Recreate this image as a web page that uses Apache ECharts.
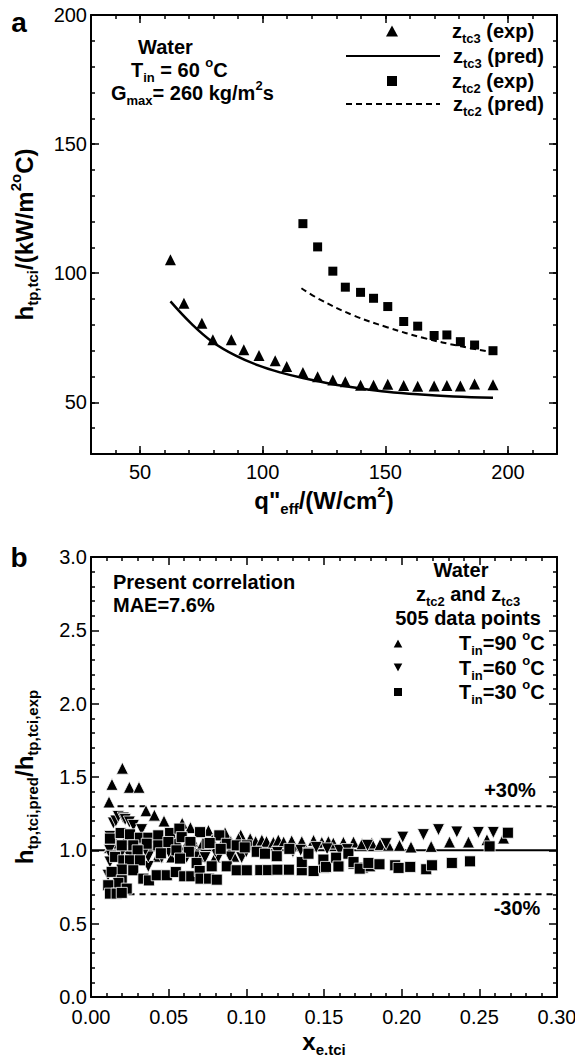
<!DOCTYPE html>
<html><head><meta charset="utf-8">
<script src="https://cdn.jsdelivr.net/npm/echarts@6/dist/echarts.min.js"></script>
<style>html,body{margin:0;padding:0;background:#fff}#c{width:575px;height:1061px}</style>
</head><body><div id="c"></div>
<script>
// ---------- Panel a data: h_tp,tci vs q"eff ----------
const z3Exp = [[62.4,105.2],[67.9,88.4],[75.2,80.6],[79.7,74.2],[87.2,74.2],[92.3,70.4],[98.5,68.1],[105.1,66.1],[109.8,63.9],[116.4,61.6],[122.4,59.9],[128.6,58.7],[133.7,58.0],[139.9,56.6],[145.2,56.6],[151.0,57.0],[157.5,56.5],[163.2,56.2],[169.9,56.3],[175.1,56.5],[180.6,56.3],[186.4,57.1],[193.9,56.8]];
const z3Pred = [[62.4,89.1],[71.0,80.4],[79.7,73.3],[89.0,68.1],[98.5,64.2],[107.1,61.6],[116.4,59.4],[128.2,57.1],[139.9,55.4],[150.7,54.1],[163.2,53.1],[177.8,52.3],[193.9,51.8]];
const z2Exp = [[116.4,119.2],[122.4,110.2],[128.6,100.8],[133.7,94.6],[139.9,92.6],[145.2,90.3],[151.0,87.1],[157.5,81.3],[163.2,79.5],[169.9,75.9],[175.1,76.1],[180.6,73.5],[186.4,72.2],[193.9,70.0]];
const z2Pred = [[115.8,94.2],[123.6,89.7],[137.2,83.6],[150.7,79.1],[165.8,74.9],[180.8,71.7],[193.9,69.4]];
const aXTicks = [50,100,150,200];
const aYTicks = [50,100,150,200];

// ---------- Panel b data: h_pred/h_exp vs x_e,tci ----------
const tin90 = [[0.0116,1.33],[0.0135,1.45],[0.0202,1.56],[0.0247,1.43],[0.0309,1.43],[0.0354,1.27],[0.0408,1.24],[0.047,1.20],[0.0587,1.185],[0.064,1.155],[0.0756,1.136],[0.0863,1.12],[0.0964,1.105],
 [0.012,1.02],[0.016,1.05],[0.022,1.07],[0.028,1.04],[0.033,1.06],[0.038,1.03],[0.044,1.05],[0.05,1.04],[0.055,1.07],[0.061,1.03],[0.066,1.06],[0.072,1.05],[0.078,1.07],[0.084,1.04],[0.09,1.06],[0.095,1.08],
 [0.03,0.965],[0.043,0.96],[0.052,0.955],[0.058,0.965],[0.07,0.96],[0.08,0.955],[0.092,0.96],
 [0.1025,1.08],[0.106,1.06],[0.110,1.07],[0.113,1.06],[0.1174,1.055],[0.1206,1.07],[0.124,1.057],[0.1292,1.065],[0.1357,1.06],[0.1433,1.068],[0.1486,1.055],[0.1528,1.06],[0.156,1.05],[0.1625,1.055],[0.169,1.057],[0.1745,1.045],[0.1808,1.05],[0.1861,1.04],[0.1915,1.035],
 [0.1986,1.034],[0.206,1.023],[0.219,1.027],[0.2308,1.057],[0.243,1.057],[0.2549,1.073],[0.2656,1.084]];
const tin60 = [[0.0122,1.095],[0.0144,1.186],[0.016,1.2],[0.0176,1.231],[0.0208,1.22],[0.022,1.21],[0.0247,1.193],[0.0273,1.17],[0.0326,1.141],
 [0.012,1.0],[0.013,0.96],[0.0122,0.92],[0.011,0.83],[0.0369,0.89],
 [0.0251,0.955],[0.0369,0.955],[0.0455,0.95],[0.0552,0.955],[0.0616,0.952],[0.067,0.955],[0.0734,0.95],[0.082,0.952],[0.0895,0.955],[0.097,0.95],
 [0.02,0.99],[0.035,1.0],[0.05,0.99],[0.065,1.0],[0.08,0.99],[0.1,0.99],[0.11,0.98],[0.12,0.985],[0.13,0.99],[0.135,1.0],[0.14,0.98],[0.145,1.02],[0.152,1.01],[0.16,1.0],[0.165,1.005],[0.178,1.034],[0.19,1.045],
 [0.2007,1.09],[0.214,1.107],[0.2237,1.141],[0.2355,1.125],[0.2494,1.122],[0.259,1.122]];
const tin30 = [[0.0122,1.08],[0.0191,1.118],[0.0251,1.109],[0.0315,1.086],[0.0369,1.086],[0.0433,1.102],[0.0509,1.118],[0.0569,1.148],[0.0584,1.09],[0.0702,1.124],[0.0749,1.045],[0.0826,1.102],[0.0874,1.045],[0.0938,1.034],[0.1003,1.034],
 [0.0198,1.034],[0.0272,1.034],[0.0359,1.045],[0.0433,1.034],[0.0498,1.057],[0.064,1.057],[0.0764,1.05],[0.0835,1.01],[0.03,1.0],[0.045,0.98],[0.055,1.0],[0.063,0.99],
 [0.0155,0.955],[0.0208,0.932],[0.0251,0.932],[0.0315,0.932],[0.0573,0.944],[0.068,0.914],[0.0777,0.891],[0.0874,0.891],
 [0.0198,0.869],[0.0133,0.853],[0.0272,0.864],
 [0.0198,0.796],[0.0176,0.778],[0.0111,0.762],[0.023,0.739],[0.0122,0.705],[0.0165,0.705],[0.0198,0.71],
 [0.0337,0.807],[0.0373,0.795],[0.0423,0.83],[0.0488,0.83],[0.0546,0.852],[0.06,0.823],[0.0645,0.823],[0.07,0.859],[0.0705,0.807],[0.076,0.807],[0.081,0.80],
 [0.0938,0.864],[0.1003,0.864],[0.109,0.865],[0.114,0.865],[0.120,0.868],[0.1274,0.868],[0.1357,0.864],[0.1433,0.859],[0.15,0.882],[0.1595,0.891],[0.169,0.909],[0.175,0.882],[0.1796,0.891],
 [0.099,1.02],[0.1067,0.99],[0.112,0.977],[0.1196,0.96],[0.1277,1.01],[0.1357,0.92],[0.14,0.977],[0.1496,0.937],[0.1513,0.887],[0.1578,0.95],[0.1593,0.89],[0.1657,0.977],[0.169,0.92],[0.173,0.875],[0.1786,0.914],[0.1857,0.905],[0.1958,0.898],
 [0.198,0.88],[0.2055,0.887],[0.2158,0.871],[0.2195,0.898],[0.2323,0.914],[0.244,0.925],[0.2566,1.027],[0.2684,1.12]];
const refLine = [[0,1],[0.3,1]];
const plus30 = [[0.01,1.3],[0.3,1.3]];
const minus30 = [[0.01,0.7],[0.3,0.7]];

// ---------- styling ----------
const F = "'Liberation Sans', Arial, Helvetica, sans-serif";
function rich(main, sub) {
  return {
    b: {fontFamily:F, fontWeight:'bold', fontSize:main, lineHeight:main+8, color:'#000', fill:'#000'},
    s: {fontFamily:F, fontWeight:'bold', fontSize:sub, lineHeight:sub+2, verticalAlign:'bottom', color:'#000', fill:'#000'},
    p: {fontFamily:F, fontWeight:'bold', fontSize:sub, lineHeight:sub+2, verticalAlign:'top', color:'#000', fill:'#000'}
  };
}
const R20 = rich(20, 13);
const R24 = rich(24, 15);

const LINE = {show:true, onZero:false, lineStyle:{color:'#000', width:2}};
function axis(o) {
  const a = {
    type:'value', gridIndex:o.g, position:o.pos, min:o.min, max:o.max,
    axisLine: o.line ? LINE : {show:false},
    axisTick: {show:true, inside:true, length:o.len, lineStyle:{color:'#000', width:1.5}},
    axisLabel: {show:false},
    splitLine: {show:false}
  };
  if (o.interval !== undefined) a.interval = o.interval;
  if (o.tickValues) a.axisTick.customValues = o.tickValues;
  if (o.minor) a.minorTick = {show:true, splitNumber:5, length:4, lineStyle:{color:'#000', width:1.5}};
  if (o.labels) a.axisLabel = Object.assign({show:true, color:'#000', fontFamily:F, fontSize:20, lineHeight:16}, o.labels);
  if (o.name) {
    a.name = o.name; a.nameLocation = 'middle'; a.nameGap = o.nameGap;
    if (o.rot) a.nameRotate = o.rot;
    a.nameTextStyle = {color:'#000', rich:R24};
  }
  return a;
}

const xAxes = [
  axis({g:0,pos:'bottom',min:30,max:220,interval:10,len:4,line:true,
        labels:{customValues:aXTicks, margin:10},
        name:'{b|q"}{s|eff}{b|/(W/cm}{p|2}{b|)}', nameGap:30}),
  axis({g:0,pos:'bottom',min:30,max:220,len:8,tickValues:aXTicks}),
  axis({g:0,pos:'top',min:30,max:220,interval:10,len:4,line:true}),
  axis({g:0,pos:'top',min:30,max:220,len:8,tickValues:aXTicks}),
  axis({g:1,pos:'bottom',min:0,max:0.3,interval:0.05,len:8,line:true,minor:true,
        labels:{margin:12, formatter:v=>v.toFixed(2)},
        name:'{b|x}{s|e.tci}', nameGap:28}),
  axis({g:1,pos:'top',min:0,max:0.3,interval:0.05,len:8,line:true,minor:true})
];
const yAxes = [
  axis({g:0,pos:'left',min:30,max:200,interval:10,len:4,line:true,
        labels:{customValues:aYTicks, margin:4},
        name:'{b|h}{s|tp,tci}{b|/(kW/m}{p|2o}{b|C)}', nameGap:51, rot:90}),
  axis({g:0,pos:'left',min:30,max:200,len:8,tickValues:aYTicks}),
  axis({g:0,pos:'right',min:30,max:200,interval:10,len:4,line:true}),
  axis({g:0,pos:'right',min:30,max:200,len:8,tickValues:aYTicks}),
  axis({g:1,pos:'left',min:0,max:3,interval:0.5,len:8,line:true,minor:true,
        labels:{margin:4, formatter:v=>v.toFixed(1)},
        name:'{b|h}{s|tp,tci,pred}{b|/h}{s|tp,tci,exp}', nameGap:51, rot:90}),
  axis({g:1,pos:'right',min:0,max:3,interval:0.5,len:8,line:true,minor:true})
];

const legendNames = {
  z3exp:'{b|z}{s|tc3}{b| (exp)}', z3pred:'{b|z}{s|tc3}{b| (pred)}',
  z2exp:'{b|z}{s|tc2}{b| (exp)}', z2pred:'{b|z}{s|tc2}{b| (pred)}',
  tin90:'{b|T}{s|in}{b|=90 }{p|o}{b|C}', tin60:'{b|T}{s|in}{b|=60 }{p|o}{b|C}', tin30:'{b|T}{s|in}{b|=30 }{p|o}{b|C}'
};
const DOWN_TRI = 'path://M0,0L10,0L5,9Z';
function leg(name, left, top, w, h, pad, icon, hideSymbol) {
  const l = {data:[name], left:left, top:top, orient:'vertical', padding:0, itemWidth:w, itemHeight:h,
    selectedMode:false, formatter:n=>legendNames[n],
    textStyle:{color:'#000', rich:R20, padding:[0,0,0,pad]}};
  if (icon) l.icon = icon;
  if (hideSymbol) l.itemStyle = {opacity:0, color:'rgba(0,0,0,0)', borderWidth:0};
  return l;
}

const MK = {color:'#000', opacity:1};
const MKB = {color:'#000', opacity:1, borderColor:'#fff', borderWidth:0.8};
const series = [
  {name:'z3exp', type:'scatter', xAxisIndex:0, yAxisIndex:0, data:z3Exp, symbol:'triangle', symbolSize:11, itemStyle:MK},
  {name:'z3pred', type:'line', xAxisIndex:0, yAxisIndex:0, data:z3Pred, smooth:0.4, symbol:'none', lineStyle:{color:'#000', width:2.5}, itemStyle:{color:'#000'}},
  {name:'z2exp', type:'scatter', xAxisIndex:0, yAxisIndex:0, data:z2Exp, symbol:'rect', symbolSize:9, itemStyle:MK},
  {name:'z2pred', type:'line', xAxisIndex:0, yAxisIndex:0, data:z2Pred, smooth:0.4, symbol:'none', lineStyle:{color:'#000', width:2, type:[6,4]}, itemStyle:{color:'#000'}},
  {name:'ref', type:'line', xAxisIndex:4, yAxisIndex:4, data:refLine, symbol:'none', lineStyle:{color:'#000', width:2}, z:1},
  {name:'p30', type:'line', xAxisIndex:4, yAxisIndex:4, data:plus30, symbol:'none', lineStyle:{color:'#000', width:2, type:[6,5]}, z:1},
  {name:'m30', type:'line', xAxisIndex:4, yAxisIndex:4, data:minus30, symbol:'none', lineStyle:{color:'#000', width:2, type:[6,5]}, z:1},
  {name:'tin90', type:'scatter', xAxisIndex:4, yAxisIndex:4, data:tin90, symbol:'triangle', symbolSize:12, itemStyle:MKB},
  {name:'tin60', type:'scatter', xAxisIndex:4, yAxisIndex:4, data:tin60, symbol:'triangle', symbolRotate:180, symbolSize:12, itemStyle:MKB},
  {name:'tin30', type:'scatter', xAxisIndex:4, yAxisIndex:4, data:tin30, symbol:'rect', symbolSize:11, itemStyle:MKB}
];

function txt(x, y, text, align) {
  return {type:'text', x:x, y:y, z:100, style:{text:text, rich:R20, align:align||'left', verticalAlign:'middle', fill:'#000', fontFamily:F}};
}
const graphics = [
  {type:'text', x:19, y:22, style:{text:'a', fontFamily:F, fontWeight:'bold', fontSize:28, fill:'#000', align:'center', verticalAlign:'middle'}},
  txt(138, 47, '{b|Water}'),
  txt(131, 70, '{b|T}{s|in}{b| = 60 }{p|o}{b|C}'),
  txt(111, 93, '{b|G}{s|max}{b|= 260 kg/m}{p|2}{b|s}'),
  {type:'text', x:19, y:557, style:{text:'b', fontFamily:F, fontWeight:'bold', fontSize:28, fill:'#000', align:'center', verticalAlign:'middle'}},
  txt(113, 582, '{b|Present correlation}'),
  txt(113, 605, '{b|MAE=7.6%}'),
  txt(461, 570, '{b|Water}', 'center'),
  txt(468, 594, '{b|z}{s|tc2}{b| and z}{s|tc3}', 'center'),
  txt(468, 618, '{b|505 data points}', 'center'),
  txt(510, 790, '{b|+30%}', 'center'),
  txt(517, 908, '{b|-30%}', 'center')
];

const chart = echarts.init(document.getElementById('c'), null, {renderer:'svg'});
chart.setOption({
  animation:false,
  backgroundColor:'#fff',
  grid:[
    {left:91, top:15, width:466, height:439, containLabel:false, outerBoundsMode:'none'},
    {left:91, top:557, width:466, height:440, containLabel:false, outerBoundsMode:'none'}
  ],
  xAxis:xAxes, yAxis:yAxes,
  legend:[
    leg('z3exp', 386, 21, 12, 11, 49, 'triangle'),
    leg('z3pred', 345, 46, 94, 12, 8, null, true),
    leg('z2exp', 387, 71, 10, 10, 50, 'rect'),
    leg('z2pred', 345, 94, 94, 12, 8, null, true),
    leg('tin90', 391, 629, 12, 11, 50, 'triangle'),
    leg('tin60', 391, 654, 12, 11, 50, DOWN_TRI),
    leg('tin30', 392, 678, 10, 10, 51, 'rect')
  ],
  series:series,
  graphic:graphics
});
</script></body></html>
